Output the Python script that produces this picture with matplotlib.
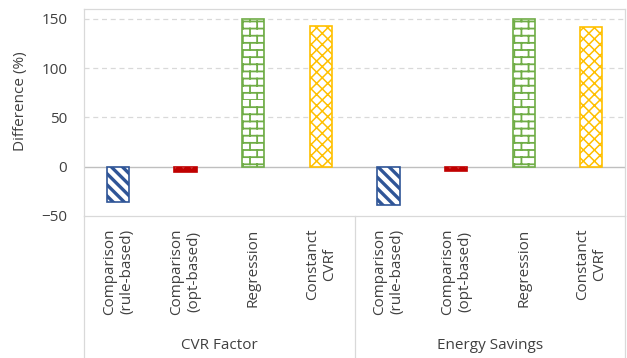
import matplotlib.pyplot as plt
import matplotlib.hatch as mhatch
from matplotlib.path import Path
import numpy as np

plt.rcParams['font.family'] = ['Open Sans', 'DejaVu Sans']
plt.rcParams['hatch.linewidth'] = 1.2


class BrickHatch(mhatch.HatchPatternBase):
    # 'b' -> staggered brick wall, 14 courses and 7 bricks per hatch unit
    rows, bricks = 14, 7

    def __init__(self, hatch, density):
        on = 'b' in hatch
        self.num_vertices = (2 * self.rows + 2 * self.rows * self.bricks) if on else 0

    def set_vertices_and_codes(self, vertices, codes):
        r, b = self.rows, self.bricks
        ys = np.arange(r) / r
        vertices[0:2 * r:2] = np.column_stack([np.zeros(r), ys])
        vertices[1:2 * r:2] = np.column_stack([np.ones(r), ys])
        k = 2 * r
        for i in range(r):
            for j in range(b):
                xj = (j + 0.5 * (i % 2)) / b
                vertices[k] = (xj, ys[i])
                vertices[k + 1] = (xj, ys[i] + 1 / r)
                k += 2
        codes[0::2] = Path.MOVETO
        codes[1::2] = Path.LINETO


mhatch._hatch_types.append(BrickHatch)

groups = ['CVR Factor', 'Energy Savings']
methods = ['Comparison\n(rule-based)', 'Comparison\n(opt-based)', 'Regression', 'Constanct\nCVRf']
cvr_factor = [-36, -5, 150, 143]
energy_savings = [-39, -4, 150, 142]

colors = ['#2F5597', '#C00000', '#70AD47', '#FFC000']
hatches = ['\\\\\\', '..', 'b', 'xxx']
hatch_lw = [2.4, 1.0, 1.3, 1.1]

fig = plt.figure(figsize=(6.27, 3.58), dpi=100)
ax = fig.add_axes([0.134, 0.397, 0.863, 0.578])

values = cvr_factor + energy_savings
x = np.arange(len(values))
for i, v in enumerate(values):
    k = i % 4
    if k == 1:
        # solid red bar with small white dots
        b = ax.bar(x[i], v, width=0.33, facecolor=colors[k], edgecolor='white',
                   hatch=hatches[k], linewidth=0, zorder=3)
        ax.bar(x[i], v, width=0.33, fill=False, edgecolor=colors[k],
               linewidth=1.2, zorder=4)
    else:
        b = ax.bar(x[i], v, width=0.33, facecolor='white', edgecolor=colors[k],
                   hatch=hatches[k], linewidth=1.2, zorder=3)
    for p in b:
        if hasattr(p, 'set_hatch_linewidth'):
            p.set_hatch_linewidth(hatch_lw[k])

ax.set_xlim(-0.5, len(values) - 0.5)
ax.set_ylim(-50, 160)
ax.set_yticks([-50, 0, 50, 100, 150])
ax.tick_params(axis='y', labelsize=11, colors='#404040', length=0, pad=12)
ax.tick_params(axis='x', length=0, pad=9)
for yv in [50, 100, 150]:
    ax.axhline(yv, color='#D9D9D9', lw=0.9, ls=(0, (4, 3)), zorder=1)
ax.axhline(0, color='#BFBFBF', lw=1.0, zorder=2)

ax.set_xticks(x)
ax.set_xticklabels(methods * 2, rotation=90, va='top', ha='center',
                   multialignment='center', fontsize=11, color='#404040')
ax.set_ylabel('Difference (%)', fontsize=11, color='#404040')
ax.yaxis.set_label_coords(-0.104, 0.556)

for s in ax.spines.values():
    s.set_color('#D9D9D9')
    s.set_linewidth(0.9)

# group separators and group names below the category labels
trans = ax.get_xaxis_transform()
for xs in [-0.5, 3.5, 7.5]:
    ax.plot([xs, xs], [0, -0.75], transform=trans, color='#D9D9D9',
            lw=0.9, clip_on=False)
for g, name in enumerate(groups):
    ax.text(1.5 + 4 * g, -0.628, name, transform=trans, ha='center',
            va='center', fontsize=11, color='#404040')

fig.savefig('out.png', dpi=100)
